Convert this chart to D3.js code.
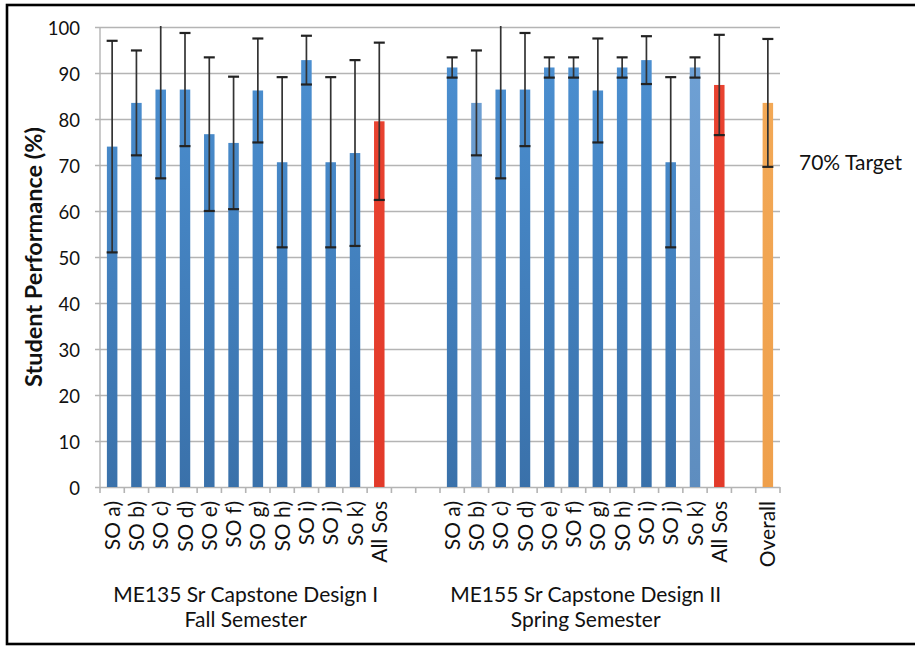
<!DOCTYPE html>
<html>
<head>
<meta charset="utf-8">
<script src="https://cdn.jsdelivr.net/npm/d3@7"></script>
<style>
  html, body { margin: 0; padding: 0; background: #fff; }
  svg { display: block; }
  text { font-family: Lato, "Open Sans", sans-serif; fill: #111; }
</style>
</head>
<body>
<svg id="chart" width="915" height="646"></svg>
<script>
// ---- data ----
const labels1 = ["SO a)", "SO b)", "SO c)", "SO d)", "SO e)", "SO f)", "SO g)", "SO h)", "SO i)", "SO j)", "So k)", "All Sos"];
const values1 = [74.0, 83.5, 86.4, 86.4, 76.7, 74.8, 86.2, 70.6, 92.8, 70.6, 72.6, 79.5];
const errors1 = [23.0, 11.4, 19.3, 12.3, 16.7, 14.4, 11.3, 18.5, 5.3, 18.5, 20.2, 17.1];
const labels2 = ["SO a)", "SO b)", "SO c)", "SO d)", "SO e)", "SO f)", "SO g)", "SO h)", "SO i)", "SO j)", "So k)", "All Sos"];
const values2 = [91.2, 83.5, 86.4, 86.4, 91.2, 91.2, 86.2, 91.2, 92.8, 70.6, 91.2, 87.4];
const errors2 = [2.2, 11.4, 19.3, 12.3, 2.2, 2.2, 11.3, 2.2, 5.2, 18.5, 2.2, 10.9];
const overallLabel = "Overall";
const overallValue = 83.5;
const overallError = 13.9;
const colors1 = ["blue","blue","blue","blue","blue","blue","blue","blue","blue","blue","blue","red"];
const colors2 = ["blue","light","blue","blue","blue","blue","blue","blue","blue","blue","light","red"];
const yTicks = [0, 10, 20, 30, 40, 50, 60, 70, 80, 90, 100];
const groupTitles = [["ME135 Sr Capstone Design I", "Fall Semester"], ["ME155 Sr Capstone Design II", "Spring Semester"]];
const yTitle = "Student Performance (%)";
const targetText = "70% Target";

// ---- build rows ----
const rows = [];
labels1.forEach((l, i) => rows.push({key: "A" + i, label: l, value: values1[i], err: errors1[i], color: colors1[i], group: 0}));
rows.push({key: "gap1"}); rows.push({key: "gap2"});
labels2.forEach((l, i) => rows.push({key: "B" + i, label: l, value: values2[i], err: errors2[i], color: colors2[i], group: 1}));
rows.push({key: "gap3"});
rows.push({key: "O", label: overallLabel, value: overallValue, err: overallError, color: "orange", group: 2});
const bars = rows.filter(r => r.label);

const svg = d3.select("#chart");
const W = 915, H = 646;
const plot = {left: 100, right: 780, top: 27, bottom: 487};

const x = d3.scaleBand().domain(rows.map(r => r.key)).range([plot.left, plot.right]).paddingInner(0).paddingOuter(0);
const y = d3.scaleLinear().domain([0, 100]).range([plot.bottom, plot.top]);
const barW = 10.5;

// gradients
const defs = svg.append("defs");
const grads = {
  blue: ["#4c91d3", "#3a71aa"],
  light: ["#70a2d6", "#5e8dbf"],
  red: ["#ea4431", "#e23a2a"],
  orange: ["#f3aa58", "#efa04c"]
};
Object.entries(grads).forEach(([k, c]) => {
  const g = defs.append("linearGradient").attr("id", "g-" + k)
    .attr("gradientUnits", "userSpaceOnUse")
    .attr("x1", 0).attr("x2", 0).attr("y1", plot.top).attr("y2", plot.bottom);
  g.append("stop").attr("offset", "0%").attr("stop-color", c[0]);
  g.append("stop").attr("offset", "100%").attr("stop-color", c[1]);
});
defs.append("clipPath").attr("id", "plotclip").append("rect")
  .attr("x", 0).attr("y", plot.top - 1).attr("width", W).attr("height", plot.bottom - plot.top + 2);

// frame
svg.append("rect").attr("x", 7).attr("y", 5).attr("width", W + 10).attr("height", 639)
  .attr("fill", "none").attr("stroke", "#000").attr("stroke-width", 2.6);

// gridlines + y ticks
const yAxis = d3.axisLeft(y).tickValues(yTicks).tickSize(-(plot.right - plot.left)).tickSizeOuter(0).tickPadding(0).tickFormat(d3.format("d"));
const gy = svg.append("g").attr("transform", `translate(${plot.left},0)`).call(yAxis);
gy.select(".domain").remove();
gy.selectAll(".tick line").attr("stroke", "#b4b4b4").attr("stroke-width", 1.6).attr("x1", -5);
gy.selectAll(".tick text").attr("x", -20).attr("dy", "0.38em").attr("font-size", 18.5).attr("fill", "#111").style("font-family", "Lato, sans-serif");
svg.append("line").attr("x1", plot.left).attr("x2", plot.left).attr("y1", plot.top).attr("y2", plot.bottom)
  .attr("stroke", "#b4b4b4").attr("stroke-width", 1.4);

// x axis ticks at band boundaries
const boundaries = rows.map(r => x(r.key)).concat([plot.right]);
svg.append("g").selectAll("line").data(boundaries).join("line")
  .attr("x1", d => d).attr("x2", d => d).attr("y1", plot.bottom).attr("y2", plot.bottom + 6)
  .attr("stroke", "#b4b4b4").attr("stroke-width", 1.6);

// bars
svg.append("g").selectAll("rect").data(bars).join("rect")
  .attr("x", d => x(d.key) + x.bandwidth() / 2 - barW / 2)
  .attr("width", barW)
  .attr("y", d => y(d.value))
  .attr("height", d => y(0) - y(d.value))
  .attr("fill", d => `url(#g-${d.color})`);

// error bars
const eg = svg.append("g").attr("clip-path", "url(#plotclip)");
bars.forEach(d => {
  const cx = x(d.key) + x.bandwidth() / 2;
  const hi = d.value + d.err, lo = d.value - d.err;
  eg.append("line").attr("x1", cx).attr("x2", cx).attr("y1", y(hi)).attr("y2", y(lo))
    .attr("stroke", "#333").attr("stroke-width", 1.7);
  eg.append("line").attr("x1", cx - 5.5).attr("x2", cx + 5.5).attr("y1", y(hi)).attr("y2", y(hi))
    .attr("stroke", "#222").attr("stroke-width", 2.2);
  eg.append("line").attr("x1", cx - 5.5).attr("x2", cx + 5.5).attr("y1", y(lo)).attr("y2", y(lo))
    .attr("stroke", "#222").attr("stroke-width", 2.2);
});

// category labels
svg.append("g").selectAll("text").data(bars).join("text")
  .attr("transform", d => `translate(${x(d.key) + x.bandwidth() / 2 + 7.5},${plot.bottom + 14}) rotate(-90)`)
  .attr("text-anchor", "end")
  .attr("font-size", 21)
  .text(d => d.label);

// group titles
[0, 1].forEach(gi => {
  const gb = bars.filter(b => b.group === gi);
  const cx = (x(gb[0].key) + x(gb[gb.length - 1].key) + x.bandwidth()) / 2;
  const t = svg.append("text").attr("text-anchor", "middle").attr("font-size", 21);
  t.append("tspan").attr("x", cx).attr("y", 602).text(groupTitles[gi][0]);
  t.append("tspan").attr("x", cx).attr("y", 627).text(groupTitles[gi][1]);
});

// y title
svg.append("text")
  .attr("transform", `translate(42,${(plot.top + plot.bottom) / 2}) rotate(-90)`)
  .attr("text-anchor", "middle").attr("font-size", 23.5).attr("font-weight", "bold")
  .text(yTitle);

// target text
svg.append("text").attr("x", 799).attr("y", 170).attr("font-size", 21).text(targetText);
</script>
</body>
</html>
